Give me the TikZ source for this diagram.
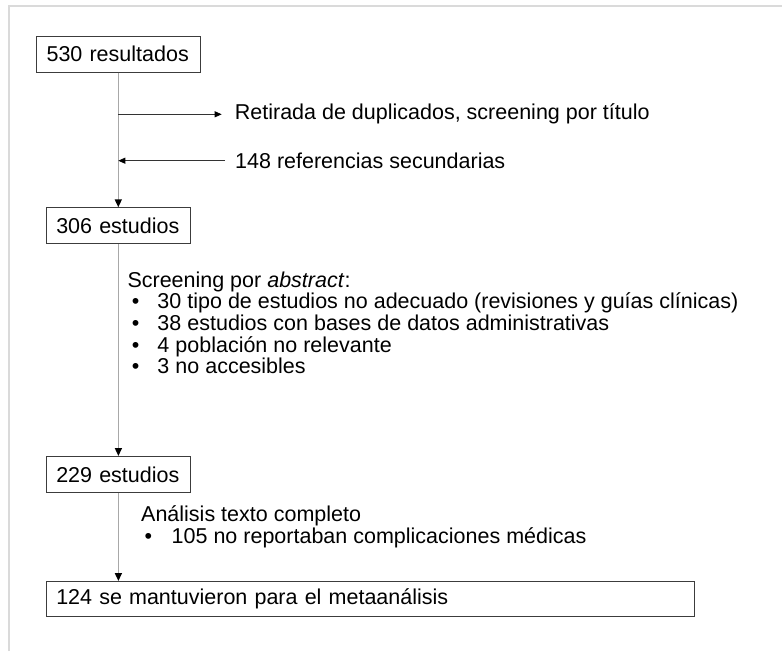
\documentclass[tikz,border=0pt]{standalone}
\usepackage{fontspec}
\setmainfont{Liberation Sans}
\usetikzlibrary{arrows.meta}
\definecolor{framegray}{HTML}{DADADA}
\definecolor{linegray}{HTML}{A8A8A8}
\definecolor{boxgray}{HTML}{3C3C3C}
\begin{document}
\begin{tikzpicture}[x=1pt,y=-1pt,
  every node/.style={font=\fontsize{21.5}{21.7}\selectfont},
  box/.style={draw=boxgray, line width=1.1pt, inner xsep=10pt, inner ysep=0pt, minimum height=36pt, anchor=north west, align=left},
  flow/.style={draw=linegray, line width=1.5pt, -{Triangle[length=8pt,width=7pt,color=black]}},
  side/.style={draw=black!80, line width=0.8pt, -{Triangle[length=7pt,width=6pt,color=black]}},
  sidelabel/.style={anchor=west, inner ysep=0pt},
  listtext/.style={anchor=base west, inner sep=0pt, align=left}
]
\useasboundingbox (0,0) rectangle (782,651);
\draw[framegray, line width=1.2pt] (9,651) -- (9,6) -- (782,6);

\node[box, text width=143.5pt] (b1) at (36,35.5) {530 resultados};
\node[box, text width=124.3pt] (b2) at (45.7,207.3) {306 estudios};
\node[box, text width=124.3pt] (b3) at (45.7,456) {229 estudios};
\node[box, text width=627.8pt, minimum height=35pt] (b4) at (45.7,581) {124 se mantuvieron para el metaanálisis};

\coordinate (j1) at (b1.south |- 0,114.3);
\coordinate (j2) at (b1.south |- 0,160.7);

\node[sidelabel, inner xsep=13pt] (ret) at (221.7,114.3) {Retirada de duplicados, screening por título};
\node[sidelabel, inner xsep=10pt] (ref) at (225,160.7) {148 referencias secundarias};

\draw[flow] (b1.south) -- (b1.south |- b2.north);
\draw[side] (j1) -- (ret.west);
\draw[side] (ref.west) -- (j2);

% base anchor of a multi-line node = baseline of its last line
\node[listtext] (scr) at (127.3,373.8) {Screening por \textit{abstract}:\\
\hspace*{4.4pt}\makebox[25.6pt][l]{•}30 tipo de estudios no adecuado (revisiones y guías clínicas)\\
\hspace*{4.4pt}\makebox[25.6pt][l]{•}38 estudios con bases de datos administrativas\\
\hspace*{4.4pt}\makebox[25.6pt][l]{•}4 población no relevante\\
\hspace*{4.4pt}\makebox[25.6pt][l]{•}3 no accesibles};

\draw[flow] (b2.south) -- (b2.south |- b3.north);

\node[listtext] (ana) at (141,543.5) {Análisis texto completo\\
\hspace*{3.5pt}\makebox[27pt][l]{•}105 no reportaban complicaciones médicas};

\draw[flow] (b3.south) -- (b3.south |- b4.north);
\end{tikzpicture}
\end{document}
